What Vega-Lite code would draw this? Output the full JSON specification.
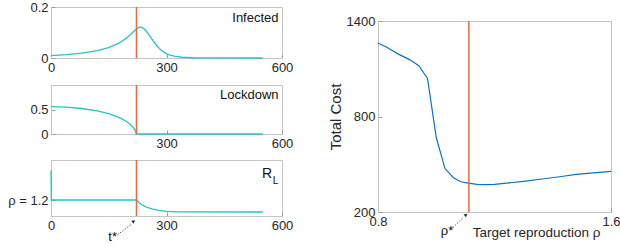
{
  "$schema": "https://vega.github.io/schema/vega-lite/v6.json",
  "padding": {"left": 7, "top": 0, "right": 0, "bottom": 0},
  "background": "white",
  "config": {
    "font": "Liberation Sans",
    "view": {"stroke": "#c4c4c4", "strokeWidth": 1},
    "axis": {
      "grid": false,
      "domainColor": "#c4c4c4",
      "tickColor": "#9a9a9a",
      "labelColor": "#262626",
      "labelFontSize": 13,
      "titleFontSize": 13,
      "titleColor": "#262626",
      "titleFontWeight": "normal",
      "tickSize": -4,
      "labelPadding": 7,
      "labelFlush": false,
      "labelOverlap": false
    }
  },
  "datasets": {
    "infected": [
      {"t": 0, "v": 0.009}, {"t": 40, "v": 0.013}, {"t": 80, "v": 0.0195}, {"t": 120, "v": 0.029},
      {"t": 150, "v": 0.041}, {"t": 175, "v": 0.057}, {"t": 195, "v": 0.077}, {"t": 210, "v": 0.097},
      {"t": 222, "v": 0.114}, {"t": 230, "v": 0.122}, {"t": 238, "v": 0.119}, {"t": 246, "v": 0.108},
      {"t": 255, "v": 0.09}, {"t": 265, "v": 0.068}, {"t": 275, "v": 0.048}, {"t": 285, "v": 0.032},
      {"t": 295, "v": 0.021}, {"t": 305, "v": 0.013}, {"t": 320, "v": 0.007}, {"t": 340, "v": 0.003},
      {"t": 370, "v": 0.001}, {"t": 420, "v": 0.0002}, {"t": 550, "v": 0}
    ],
    "lockdown": [
      {"t": 0, "v": 0.56}, {"t": 40, "v": 0.548}, {"t": 80, "v": 0.52}, {"t": 120, "v": 0.47},
      {"t": 150, "v": 0.415}, {"t": 170, "v": 0.36}, {"t": 185, "v": 0.305}, {"t": 197, "v": 0.25},
      {"t": 207, "v": 0.19}, {"t": 214, "v": 0.13}, {"t": 219, "v": 0.07}, {"t": 222, "v": 0},
      {"t": 550, "v": 0}
    ],
    "rl": [
      {"t": 0, "v": 1.57}, {"t": 1, "v": 1.2}, {"t": 222, "v": 1.2}, {"t": 228, "v": 1.17},
      {"t": 236, "v": 1.14}, {"t": 248, "v": 1.11}, {"t": 262, "v": 1.09}, {"t": 280, "v": 1.07},
      {"t": 300, "v": 1.057}, {"t": 330, "v": 1.052}, {"t": 550, "v": 1.05}
    ],
    "cost": [
      {"rho": 0.8, "c": 1262}, {"rho": 0.83, "c": 1235}, {"rho": 0.87, "c": 1192}, {"rho": 0.91, "c": 1156},
      {"rho": 0.94, "c": 1119}, {"rho": 0.97, "c": 1039}, {"rho": 1.0, "c": 668}, {"rho": 1.03, "c": 473},
      {"rho": 1.06, "c": 414}, {"rho": 1.085, "c": 390}, {"rho": 1.11, "c": 381}, {"rho": 1.14, "c": 374},
      {"rho": 1.17, "c": 372}, {"rho": 1.2, "c": 374}, {"rho": 1.25, "c": 383}, {"rho": 1.3, "c": 393},
      {"rho": 1.37, "c": 409}, {"rho": 1.43, "c": 423}, {"rho": 1.48, "c": 436}, {"rho": 1.54, "c": 446},
      {"rho": 1.6, "c": 455}
    ]
  },
  "hconcat": [
    {
      "spacing": 7,
      "vconcat": [
        {
          "spacing": 8,
          "vconcat": [
            {
              "width": 231, "height": 51,
              "layer": [
                {
                  "data": {"name": "infected"},
                  "mark": {"type": "line", "color": "#22c4c4", "strokeWidth": 1.3},
                  "encoding": {
                    "x": {"field": "t", "type": "quantitative", "scale": {"domain": [0, 600], "nice": false}, "axis": {"values": [0, 300, 600], "title": null, "format": "d"}},
                    "y": {"field": "v", "type": "quantitative", "scale": {"domain": [0, 0.2], "nice": false}, "axis": {"values": [0, 0.1, 0.2], "title": null, "format": "~g"}}
                  }
                },
                {
                  "data": {"values": [{}]},
                  "mark": {"type": "rule", "color": "#e8693c", "strokeWidth": 1.5},
                  "encoding": {"x": {"datum": 222}}
                },
                {
                  "data": {"values": [{}]},
                  "mark": {"type": "text", "align": "right", "baseline": "middle", "fontSize": 13, "color": "#111111"},
                  "encoding": {"x": {"datum": 591}, "y": {"datum": 0.157}, "text": {"value": "Infected"}}
                }
              ]
            },
            {
              "width": 231, "height": 49,
              "layer": [
                {
                  "data": {"name": "lockdown"},
                  "mark": {"type": "line", "color": "#22c4c4", "strokeWidth": 1.3},
                  "encoding": {
                    "x": {"field": "t", "type": "quantitative", "scale": {"domain": [0, 600], "nice": false}, "axis": {"values": [0, 300, 600], "title": null, "format": "d", "labelExpr": "datum.value == 0 ? '' : datum.label"}},
                    "y": {"field": "v", "type": "quantitative", "scale": {"domain": [0, 1], "nice": false}, "axis": {"values": [0, 0.5], "title": null, "format": "~g"}}
                  }
                },
                {
                  "data": {"values": [{}]},
                  "mark": {"type": "rule", "color": "#e8693c", "strokeWidth": 1.5},
                  "encoding": {"x": {"datum": 222}}
                },
                {
                  "data": {"values": [{}]},
                  "mark": {"type": "text", "align": "right", "baseline": "middle", "fontSize": 13, "color": "#111111"},
                  "encoding": {"x": {"datum": 591}, "y": {"datum": 0.786}, "text": {"value": "Lockdown"}}
                }
              ]
            }
          ]
        },
        {
          "width": 231, "height": 56,
          "layer": [
            {
              "data": {"name": "rl"},
              "mark": {"type": "line", "color": "#22c4c4", "strokeWidth": 1.3},
              "encoding": {
                "x": {"field": "t", "type": "quantitative", "scale": {"domain": [0, 600], "nice": false}, "axis": {"values": [0, 300, 600], "title": null, "format": "d"}},
                "y": {"field": "v", "type": "quantitative", "scale": {"domain": [1.0, 1.7], "nice": false, "zero": false}, "axis": {"values": [1.2], "title": null, "labelExpr": "'ρ = 1.2'"}}
              }
            },
            {
              "data": {"values": [{}]},
              "mark": {"type": "rule", "color": "#e8693c", "strokeWidth": 1.5},
              "encoding": {"x": {"datum": 222}}
            },
            {
              "data": {"values": [{}]},
              "mark": {"type": "text", "align": "right", "baseline": "middle", "fontSize": 14, "color": "#111111"},
              "encoding": {"x": {"datum": 574.5}, "y": {"datum": 1.5275}, "text": {"value": "R"}}
            },
            {
              "data": {"values": [{}]},
              "mark": {"type": "text", "align": "left", "baseline": "middle", "fontSize": 10, "color": "#111111"},
              "encoding": {"x": {"datum": 576}, "y": {"datum": 1.44}, "text": {"value": "L"}}
            },
            {
              "data": {"values": [{}]},
              "mark": {"type": "text", "align": "center", "baseline": "middle", "fontSize": 13, "color": "#111111"},
              "encoding": {"x": {"datum": 160}, "y": {"datum": 0.734}, "text": {"value": "t*"}}
            },
            {
              "data": {"values": [{}]},
              "mark": {"type": "rule", "color": "#333333", "strokeWidth": 0.8, "strokeDash": [1.5, 1.5]},
              "encoding": {"x": {"datum": 173}, "y": {"datum": 0.765}, "x2": {"datum": 210}, "y2": {"datum": 0.9025}}
            },
            {
              "data": {"values": [{}]},
              "mark": {"type": "point", "shape": "triangle-up", "filled": true, "color": "#222222", "size": 14, "angle": 52, "opacity": 1},
              "encoding": {"x": {"datum": 214.8}, "y": {"datum": 0.934}}
            }
          ]
        }
      ]
    },
    {
      "spacing": 1,
      "vconcat": [
        {
          "width": 233, "height": 1,
          "view": {"stroke": null},
          "data": {"values": [{}]},
          "mark": {"type": "text", "text": ""},
          "encoding": {}
        },
        {
          "width": 233, "height": 191,
          "layer": [
            {
              "data": {"name": "cost"},
              "mark": {"type": "line", "color": "#0a72c2", "strokeWidth": 1.2},
              "encoding": {
                "x": {"field": "rho", "type": "quantitative", "scale": {"domain": [0.8, 1.6], "nice": false, "zero": false},
                      "axis": {"values": [0.8, 1.6], "format": "~g", "title": "Target reproduction ρ", "titleFontSize": 13.5, "titleAnchor": "end", "titleAlign": "right", "titleX": 222, "titleY": 24, "titleBaseline": "alphabetic"}},
                "y": {"field": "c", "type": "quantitative", "scale": {"domain": [200, 1400], "nice": false, "zero": false},
                      "axis": {"values": [200, 800, 1400], "format": "d", "title": "Total Cost", "titleFontSize": 15, "titlePadding": 2.5}}
              }
            },
            {
              "data": {"values": [{}]},
              "mark": {"type": "rule", "color": "#e8693c", "strokeWidth": 1.5},
              "encoding": {"x": {"datum": 1.112}}
            },
            {
              "data": {"values": [{}]},
              "mark": {"type": "text", "align": "center", "baseline": "middle", "fontSize": 13, "color": "#111111"},
              "encoding": {"x": {"datum": 1.037}, "y": {"datum": 78.5}, "text": {"value": "ρ*"}}
            },
            {
              "data": {"values": [{}]},
              "mark": {"type": "rule", "color": "#333333", "strokeWidth": 0.8, "strokeDash": [1.5, 1.5]},
              "encoding": {"x": {"datum": 1.0565}, "y": {"datum": 101.8}, "x2": {"datum": 1.0929}, "y2": {"datum": 164.6}}
            },
            {
              "data": {"values": [{}]},
              "mark": {"type": "point", "shape": "triangle-up", "filled": true, "color": "#222222", "size": 14, "angle": 47, "opacity": 1},
              "encoding": {"x": {"datum": 1.102}, "y": {"datum": 182}}
            }
          ]
        }
      ]
    }
  ],
  "spacing": 34
}
